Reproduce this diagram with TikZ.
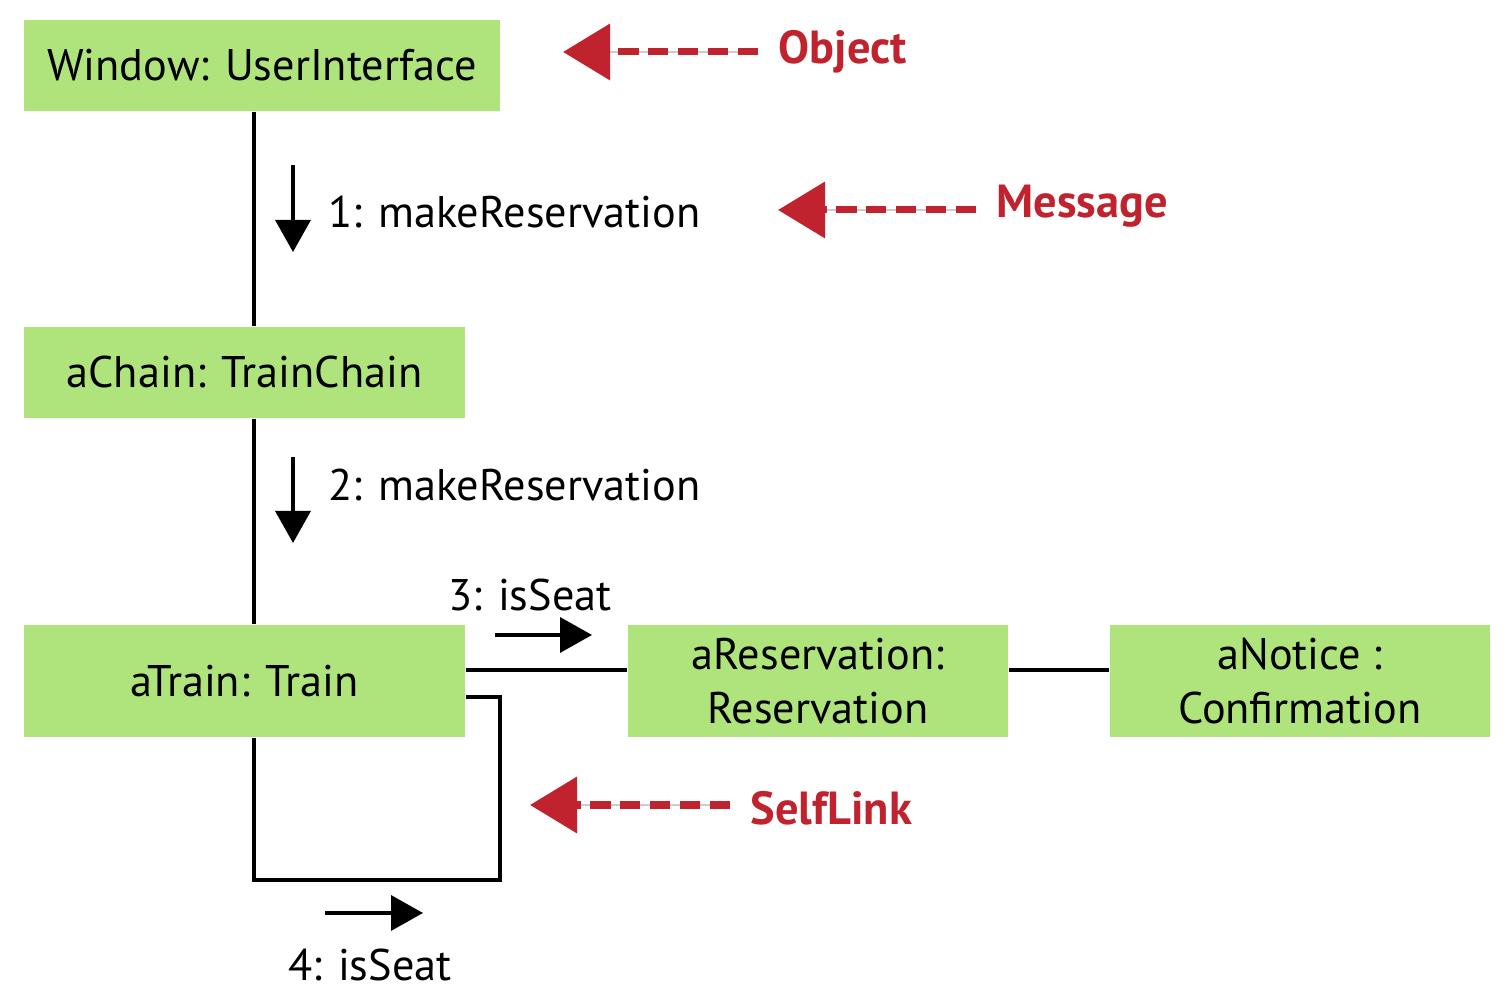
\documentclass[tikz,border=0pt]{standalone}
\usepackage{fontspec}
\setmainfont{PT Sans}
\usepackage{xcolor}
\usetikzlibrary{arrows.meta}
\definecolor{objgreen}{HTML}{AFE47C}
\definecolor{notered}{HTML}{C0232E}

\tikzset{
  objbox/.style={fill=objgreen,inner sep=0pt,align=center,
    font=\fontsize{12.6}{15.5}\selectfont},
  msglabel/.style={inner sep=0pt,font=\fontsize{12.6}{15.5}\selectfont},
  notelabel/.style={inner sep=0pt,anchor=west,text=notered,
    font=\bfseries\fontsize{13.2}{16}\selectfont},
  noteline/.style={draw=notered,line width=2pt,dash pattern=on 5.7pt off 2.8pt,
    -{Triangle[length=0.47cm,width=0.55cm]}},
  msgarrow/.style={line width=1pt,-{Triangle[length=0.32cm,width=0.35cm]}},
  link/.style={line width=1.1pt}
}

\begin{document}
\begin{tikzpicture}[>=latex]
    \useasboundingbox (0,0) rectangle (15.12,10.05);
    \fill[white] (0,0) rectangle (15.12,10.05);
    % objects
    \node[objbox,minimum width=4.76cm,minimum height=0.91cm] (win) at (2.62,9.395)
      {Window: UserInterface};
    \node[objbox,minimum width=4.41cm,minimum height=0.91cm] (chain) at (2.445,6.325)
      {aChain: TrainChain};
    \node[objbox,minimum width=4.41cm,minimum height=1.12cm] (train) at (2.445,3.24)
      {aTrain: Train};
    \node[objbox,minimum width=3.80cm,minimum height=1.12cm] (resv) at (8.18,3.24)
      {aReservation:\\Reservation};
    \node[objbox,minimum width=3.80cm,minimum height=1.12cm] (notice) at (13.00,3.24)
      {aNotice :\\Confirmation};
    % links
    \coordinate (axis) at (2.54,0);
    \coordinate (loopa) at (2.54,1.25);
    \coordinate (loopb) at (5.00,1.25);
    \coordinate (loopc) at (5.00,3.08);
    \draw[link] (win.south -| axis) -- (chain.north -| axis);
    \draw[link] (chain.south -| axis) -- (train.north -| axis);
    \draw[link] ([yshift=0.11cm]train.east) -- ([yshift=0.11cm]resv.west);
    \draw[link] ([yshift=0.11cm]resv.east) -- ([yshift=0.11cm]notice.west);
    \draw[link] (train.south -| axis) -- (loopa) -- (loopb) -- (loopc)
      -- (train.east |- loopc);
    % messages
    \coordinate (m1a) at (2.93,8.40);
    \coordinate (m1b) at (2.93,7.53);
    \coordinate (m2a) at (2.93,5.48);
    \coordinate (m2b) at (2.93,4.62);
    \coordinate (m3a) at (4.95,3.70);
    \coordinate (m3b) at (5.92,3.70);
    \coordinate (m4a) at (3.25,0.92);
    \coordinate (m4b) at (4.23,0.92);
    \draw[msgarrow] (m1a) -- (m1b);
    \draw[msgarrow] (m2a) -- (m2b);
    \draw[msgarrow] (m3a) -- (m3b);
    \draw[msgarrow] (m4a) -- (m4b);
    \node[msglabel,anchor=west] (m1) at (3.28,7.93) {1: makeReservation};
    \node[msglabel,anchor=west] (m2) at (3.28,5.20) {2: makeReservation};
    \node[msglabel] (m3) at (5.30,4.10) {3: isSeat};
    \node[msglabel] (m4) at (3.70,0.40) {4: isSeat};
    % notes
    \node[notelabel] (objnote) at (7.78,9.53) {Object};
    \node[notelabel] (msgnote) at (9.96,7.99) {Message};
    \node[notelabel] (selfnote) at (7.50,1.97) {SelfLink};
    \coordinate (objtip) at (5.63,9.53);
    \coordinate (msgtip) at (7.78,7.95);
    \coordinate (selftip) at (5.30,2.00);
    \draw[gray!40,line width=0.6pt] ([xshift=-0.2cm]objnote.west |- objtip) -- ([xshift=0.3cm]objtip);
    \draw[gray!40,line width=0.6pt] ([xshift=-0.2cm]msgnote.west |- msgtip) -- ([xshift=0.3cm]msgtip);
    \draw[gray!40,line width=0.6pt] ([xshift=-0.2cm]selfnote.west |- selftip) -- ([xshift=0.3cm]selftip);
    \draw[noteline] ([xshift=-0.2cm]objnote.west |- objtip) -- (objtip);
    \draw[noteline] ([xshift=-0.2cm]msgnote.west |- msgtip) -- (msgtip);
    \draw[noteline] ([xshift=-0.2cm]selfnote.west |- selftip) -- (selftip);
  \end{tikzpicture}
\end{document}
